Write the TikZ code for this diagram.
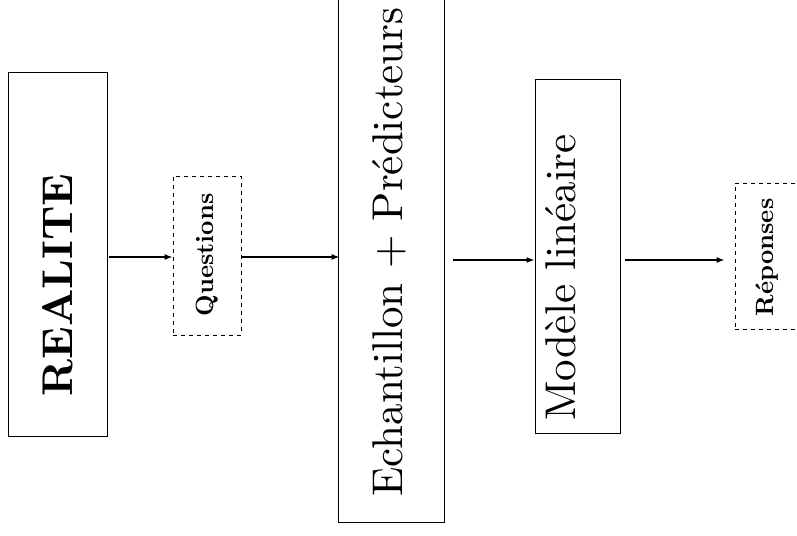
\documentclass[tikz,border=0pt]{standalone}
\usetikzlibrary{arrows.meta}
\begin{document}
\begin{tikzpicture}[x=1pt,y=1pt,
  solidbox/.style={draw,line width=0.8pt,inner sep=0pt},
  dashbox/.style={draw,line width=0.8pt,inner sep=0pt,dash pattern=on 4pt off 4pt},
  bigtext/.style={inner sep=0pt,font=\fontsize{10}{12}\selectfont},
  smalltext/.style={inner sep=0pt,font=\bfseries\fontsize{10}{12}\selectfont},
  arr/.style={line width=1.3pt,-{Latex[length=8pt,width=6pt]}}]
\useasboundingbox (0,0) rectangle (797,535);
\clip (0,0) rectangle (797,535);
% boxes
\node[solidbox,minimum width=99pt,minimum height=364pt] (real) at (57.5,281) {};
\node[dashbox,minimum width=68pt,minimum height=159pt] (q) at (207,279.5) {};
\node[solidbox,minimum width=106pt,minimum height=540pt] (ech) at (391,283) {};
\node[solidbox,minimum width=85pt,minimum height=354pt] (mod) at (577.5,279) {};
\node[dashbox,minimum width=65pt,minimum height=146pt] (rep) at (767.5,279) {};
% texts
\node[bigtext,anchor=base,rotate=90] (realt) at (72,250) {\scalebox{4.3}{\bfseries REALITE}};
\node[bigtext,anchor=base,rotate=90] (echt) at (402,283) {\scalebox{4.3}{Echantillon + Prédicteurs}};
\node[bigtext,anchor=base,rotate=90] (modt) at (575,257.5) {\scalebox{4.3}{Modèle linéaire}};
\node[smalltext,anchor=base,rotate=90] (qt) at (213,280) {\scalebox{2.5}{Questions}};
\node[smalltext,anchor=base,rotate=90] (rt) at (773,277.5) {\scalebox{2.5}{Réponses}};
% arrows
\draw[arr,shorten <=2pt] ([yshift=-1.5pt]real.east |- q.west) -- ([yshift=-1.5pt]q.west);
\draw[arr,shorten >=-2pt] ([yshift=-1.5pt]q.east) -- ([yshift=-1.5pt]ech.west |- q.east);
\draw[arr,shorten <=9pt] ([yshift=-4pt]ech.east |- mod.west) -- ([yshift=-4pt]mod.west);
\draw[arr,shorten <=5pt,shorten >=10pt] ([yshift=-4pt]mod.east) -- ([yshift=-4pt]rep.west |- mod.east);
\end{tikzpicture}
\end{document}
